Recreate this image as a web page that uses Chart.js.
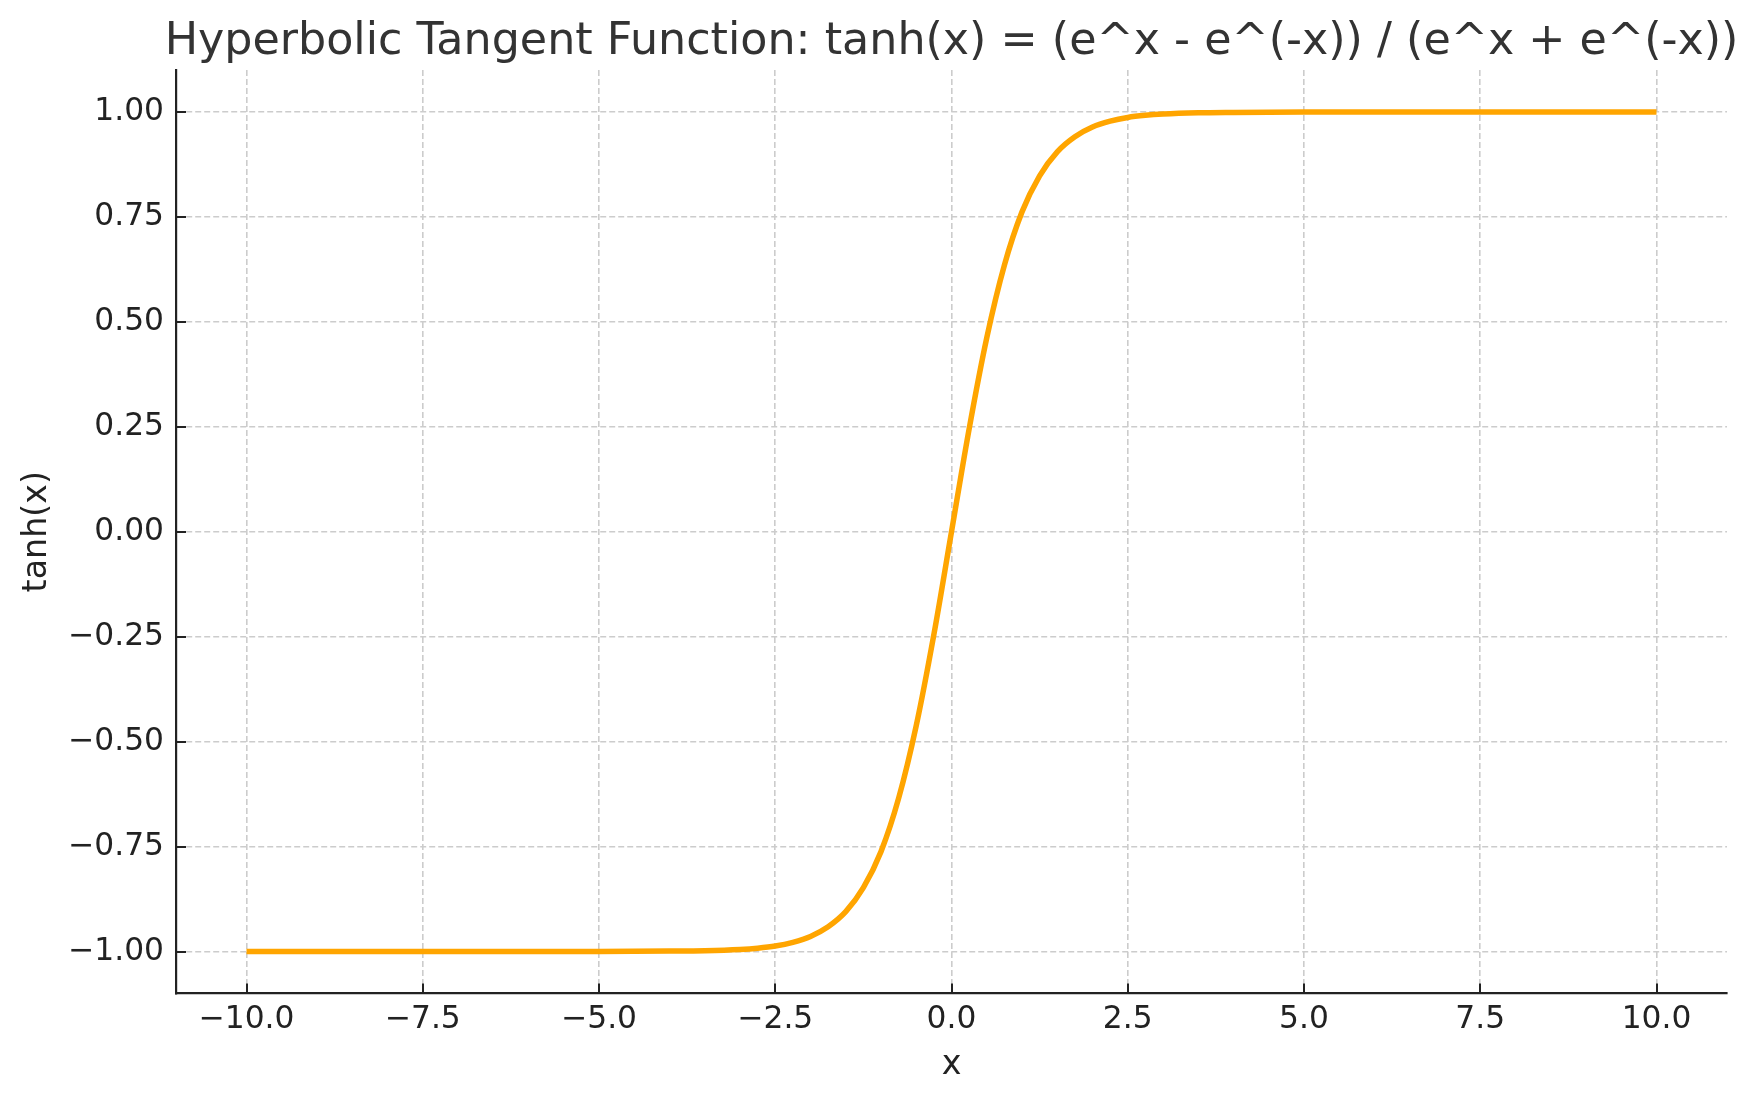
<!DOCTYPE html>
<html>
<head>
<meta charset="utf-8">
<title>tanh</title>
<script src="https://cdn.jsdelivr.net/npm/chart.js@4/dist/chart.umd.min.js"></script>
<style>
  html, body { margin: 0; padding: 0; background: #fff; }
  canvas { display: block; }
</style>
</head>
<body>
<canvas id="myChart" width="1760" height="1101"></canvas>
<script>
// values
const xValues = [-10, -8, -6, -5, -4, -3.5, -3, -2.75, -2.5, -2.25, -2, -1.75, -1.5, -1.25, -1, -0.75, -0.5, -0.25,
  0, 0.25, 0.5, 0.75, 1, 1.25, 1.5, 1.75, 2, 2.25, 2.5, 2.75, 3, 3.5, 4, 5, 6, 8, 10];
const yValues = [-1.000, -1.000, -1.000, -1.000, -0.999, -0.998, -0.995, -0.992, -0.987, -0.978, -0.964, -0.941, -0.905, -0.848, -0.762, -0.635, -0.462, -0.245,
  0.000, 0.245, 0.462, 0.635, 0.762, 0.848, 0.905, 0.941, 0.964, 0.978, 0.987, 0.992, 0.995, 0.998, 0.999, 1.000, 1.000, 1.000, 1.000];

const xTicks = [-10, -7.5, -5, -2.5, 0, 2.5, 5, 7.5, 10];
const yTicks = [-1, -0.75, -0.5, -0.25, 0, 0.25, 0.5, 0.75, 1];

const titleText = 'Hyperbolic Tangent Function: tanh(x) = (e^x - e^(-x)) / (e^x + e^(-x))';
const FONT = 'DejaVu Sans';
const INK = '#222222';

function minus(s) { return s.replace('-', '\u2212'); }

// title centred over the plot area, ticks pointing inward like the original
const extras = {
  id: 'extras',
  afterDraw(chart) {
    const ctx = chart.ctx;
    const area = chart.chartArea;
    const xs = chart.scales.x, ys = chart.scales.y;
    ctx.save();
    ctx.strokeStyle = INK;
    ctx.lineWidth = 2;
    ctx.beginPath();
    xTicks.forEach(v => {
      const px = Math.round(xs.getPixelForValue(v));
      ctx.moveTo(px, area.bottom);
      ctx.lineTo(px, area.bottom - 10);
    });
    yTicks.forEach(v => {
      const py = Math.round(ys.getPixelForValue(v));
      ctx.moveTo(area.left, py);
      ctx.lineTo(area.left + 10, py);
    });
    ctx.stroke();

    ctx.fillStyle = '#333333';
    ctx.font = '44.4px "' + FONT + '"';
    ctx.textAlign = 'center';
    ctx.textBaseline = 'alphabetic';
    ctx.fillText(titleText, (area.left + area.right) / 2, 54);
    ctx.restore();
  }
};

let ctx = document.getElementById('myChart').getContext('2d');
let myChart = new Chart(ctx, {
  type: 'line',
  data: {
    datasets: [{
      label: 'tanh(x)',
      data: xValues.map((x, i) => ({ x: x, y: yValues[i] })),
      borderColor: '#FFA500',
      borderWidth: 5.5,
      pointRadius: 0,
      fill: false,
      cubicInterpolationMode: 'monotone'
    }]
  },
  options: {
    responsive: false,
    animation: false,
    devicePixelRatio: 1,
    layout: { padding: { top: 70, right: 33, left: 0, bottom: 0 } },
    plugins: {
      legend: { display: false },
      tooltip: { enabled: false },
      title: { display: false }
    },
    scales: {
      x: {
        type: 'linear',
        min: -11,
        max: 11,
        afterBuildTicks: s => { s.ticks = xTicks.map(v => ({ value: v })); },
        afterFit: s => { s.height = 107.5; },
        ticks: {
          color: INK,
          font: { family: FONT, size: 31.3 },
          padding: 8,
          maxRotation: 0,
          autoSkip: false,
          callback: v => minus(v.toFixed(1))
        },
        grid: { color: '#cccccc', lineWidth: 1.6, drawTicks: false },
        border: { display: true, color: INK, width: 2.2, dash: [6, 3] },
        title: {
          display: true,
          text: 'x',
          color: INK,
          font: { family: FONT, size: 33.3 },
          padding: { top: 0, bottom: 16 }
        }
      },
      y: {
        type: 'linear',
        min: -1.1,
        max: 1.1,
        afterBuildTicks: s => { s.ticks = yTicks.map(v => ({ value: v })); },
        afterFit: s => { s.width = 176; },
        ticks: {
          color: INK,
          font: { family: FONT, size: 31.3 },
          padding: 12,
          autoSkip: false,
          callback: v => minus(v.toFixed(2))
        },
        grid: { color: '#cccccc', lineWidth: 1.6, drawTicks: false },
        border: { display: true, color: INK, width: 2.2, dash: [6, 3] },
        title: {
          display: true,
          text: 'tanh(x)',
          color: INK,
          font: { family: FONT, size: 33.3 },
          padding: { top: 17, bottom: 0 }
        }
      }
    }
  },
  plugins: [extras]
});
</script>
</body>
</html>
